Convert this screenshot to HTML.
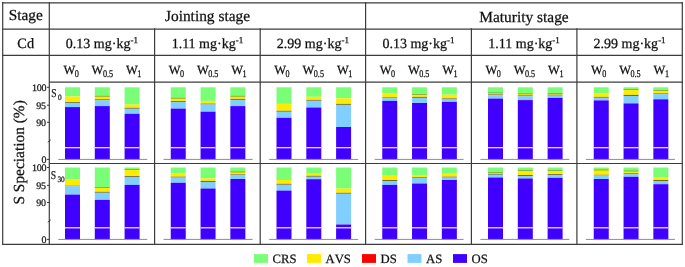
<!DOCTYPE html>
<html><head><meta charset="utf-8"><style>
html,body{margin:0;padding:0;background:#fff;width:685px;height:267px;overflow:hidden}
svg{display:block;text-rendering:geometricPrecision;will-change:transform}
</style></head><body>
<svg width="685" height="267" viewBox="0 0 685 267">
<rect width="685" height="267" fill="#fff"/>
<rect x="65.00" y="87.30" width="15.00" height="9.20" fill="#7afe78"/>
<rect x="65.00" y="96.50" width="15.00" height="5.50" fill="#ffeb00"/>
<rect x="65.00" y="102.00" width="15.00" height="0.90" fill="#6b6b3a"/>
<rect x="65.00" y="102.90" width="15.00" height="4.20" fill="#80cfff"/>
<rect x="65.00" y="107.10" width="15.00" height="52.30" fill="#4000ff"/>
<rect x="65.00" y="147.10" width="15.00" height="1.20" fill="#f2eeff"/>
<rect x="94.80" y="87.30" width="15.00" height="8.90" fill="#7afe78"/>
<rect x="94.80" y="96.20" width="15.00" height="3.10" fill="#ffeb00"/>
<rect x="94.80" y="99.30" width="15.00" height="1.00" fill="#6b6b3a"/>
<rect x="94.80" y="100.30" width="15.00" height="5.80" fill="#80cfff"/>
<rect x="94.80" y="106.10" width="15.00" height="53.30" fill="#4000ff"/>
<rect x="94.80" y="95.90" width="15.00" height="0.60" fill="#5a8a2a"/>
<rect x="94.80" y="147.10" width="15.00" height="1.20" fill="#f2eeff"/>
<rect x="124.60" y="87.30" width="15.00" height="17.30" fill="#7afe78"/>
<rect x="124.60" y="104.60" width="15.00" height="3.20" fill="#ffeb00"/>
<rect x="124.60" y="107.80" width="15.00" height="1.00" fill="#6b6b3a"/>
<rect x="124.60" y="108.80" width="15.00" height="5.00" fill="#80cfff"/>
<rect x="124.60" y="113.80" width="15.00" height="45.60" fill="#4000ff"/>
<rect x="124.60" y="147.10" width="15.00" height="1.20" fill="#f2eeff"/>
<line x1="58.3" y1="159.4" x2="147.3" y2="159.4" stroke="#8c8c8c" stroke-width="1.0"/>
<rect x="170.75" y="87.30" width="15.00" height="10.90" fill="#7afe78"/>
<rect x="170.75" y="98.20" width="15.00" height="2.90" fill="#ffeb00"/>
<rect x="170.75" y="101.10" width="15.00" height="0.90" fill="#6b6b3a"/>
<rect x="170.75" y="102.00" width="15.00" height="6.60" fill="#80cfff"/>
<rect x="170.75" y="108.60" width="15.00" height="50.80" fill="#4000ff"/>
<rect x="170.75" y="97.90" width="15.00" height="0.60" fill="#5a8a2a"/>
<rect x="170.75" y="147.10" width="15.00" height="1.20" fill="#f2eeff"/>
<rect x="200.55" y="87.30" width="15.00" height="13.60" fill="#7afe78"/>
<rect x="200.55" y="100.90" width="15.00" height="2.70" fill="#ffeb00"/>
<rect x="200.55" y="103.60" width="15.00" height="0.90" fill="#6b6b3a"/>
<rect x="200.55" y="104.50" width="15.00" height="7.20" fill="#80cfff"/>
<rect x="200.55" y="111.70" width="15.00" height="47.70" fill="#4000ff"/>
<rect x="200.55" y="147.10" width="15.00" height="1.20" fill="#f2eeff"/>
<rect x="230.35" y="87.30" width="15.00" height="8.90" fill="#7afe78"/>
<rect x="230.35" y="96.20" width="15.00" height="2.70" fill="#ffeb00"/>
<rect x="230.35" y="98.90" width="15.00" height="1.00" fill="#6b6b3a"/>
<rect x="230.35" y="99.90" width="15.00" height="6.20" fill="#80cfff"/>
<rect x="230.35" y="106.10" width="15.00" height="53.30" fill="#4000ff"/>
<rect x="230.35" y="95.90" width="15.00" height="0.60" fill="#5a8a2a"/>
<rect x="230.35" y="147.10" width="15.00" height="1.20" fill="#f2eeff"/>
<line x1="163.6" y1="159.4" x2="252.6" y2="159.4" stroke="#8c8c8c" stroke-width="1.0"/>
<rect x="276.50" y="87.30" width="15.00" height="16.60" fill="#7afe78"/>
<rect x="276.50" y="103.90" width="15.00" height="6.90" fill="#ffeb00"/>
<rect x="276.50" y="110.80" width="15.00" height="1.00" fill="#6b6b3a"/>
<rect x="276.50" y="111.80" width="15.00" height="6.00" fill="#80cfff"/>
<rect x="276.50" y="117.80" width="15.00" height="41.60" fill="#4000ff"/>
<rect x="276.50" y="147.10" width="15.00" height="1.20" fill="#f2eeff"/>
<rect x="306.30" y="87.30" width="15.00" height="9.50" fill="#7afe78"/>
<rect x="306.30" y="96.80" width="15.00" height="3.10" fill="#ffeb00"/>
<rect x="306.30" y="99.90" width="15.00" height="0.90" fill="#6b6b3a"/>
<rect x="306.30" y="100.80" width="15.00" height="6.70" fill="#80cfff"/>
<rect x="306.30" y="107.50" width="15.00" height="51.90" fill="#4000ff"/>
<rect x="306.30" y="147.10" width="15.00" height="1.20" fill="#f2eeff"/>
<rect x="336.10" y="87.30" width="15.00" height="11.10" fill="#7afe78"/>
<rect x="336.10" y="98.40" width="15.00" height="5.50" fill="#ffeb00"/>
<rect x="336.10" y="103.90" width="15.00" height="1.00" fill="#6b6b3a"/>
<rect x="336.10" y="104.90" width="15.00" height="22.10" fill="#80cfff"/>
<rect x="336.10" y="127.00" width="15.00" height="32.40" fill="#4000ff"/>
<rect x="336.10" y="147.10" width="15.00" height="1.20" fill="#f2eeff"/>
<line x1="269.2" y1="159.4" x2="358.2" y2="159.4" stroke="#8c8c8c" stroke-width="1.0"/>
<rect x="382.25" y="87.30" width="15.00" height="6.10" fill="#7afe78"/>
<rect x="382.25" y="93.40" width="15.00" height="4.00" fill="#ffeb00"/>
<rect x="382.25" y="97.40" width="15.00" height="0.90" fill="#6b6b3a"/>
<rect x="382.25" y="98.30" width="15.00" height="2.60" fill="#80cfff"/>
<rect x="382.25" y="100.90" width="15.00" height="58.50" fill="#4000ff"/>
<rect x="382.25" y="147.10" width="15.00" height="1.20" fill="#f2eeff"/>
<rect x="412.05" y="87.30" width="15.00" height="7.00" fill="#7afe78"/>
<rect x="412.05" y="94.30" width="15.00" height="2.60" fill="#ffeb00"/>
<rect x="412.05" y="96.90" width="15.00" height="1.00" fill="#6b6b3a"/>
<rect x="412.05" y="97.90" width="15.00" height="5.10" fill="#80cfff"/>
<rect x="412.05" y="103.00" width="15.00" height="56.40" fill="#4000ff"/>
<rect x="412.05" y="94.00" width="15.00" height="0.60" fill="#5a8a2a"/>
<rect x="412.05" y="147.10" width="15.00" height="1.20" fill="#f2eeff"/>
<rect x="441.85" y="87.30" width="15.00" height="7.40" fill="#7afe78"/>
<rect x="441.85" y="94.70" width="15.00" height="3.70" fill="#ffeb00"/>
<rect x="441.85" y="98.40" width="15.00" height="1.10" fill="#6b6b3a"/>
<rect x="441.85" y="99.50" width="15.00" height="2.40" fill="#80cfff"/>
<rect x="441.85" y="101.90" width="15.00" height="57.50" fill="#4000ff"/>
<rect x="441.85" y="147.10" width="15.00" height="1.20" fill="#f2eeff"/>
<line x1="374.6" y1="159.4" x2="463.6" y2="159.4" stroke="#8c8c8c" stroke-width="1.0"/>
<rect x="488.00" y="87.30" width="15.00" height="5.60" fill="#7afe78"/>
<rect x="488.00" y="92.90" width="15.00" height="1.50" fill="#ffeb00"/>
<rect x="488.00" y="94.40" width="15.00" height="0.90" fill="#6b6b3a"/>
<rect x="488.00" y="95.30" width="15.00" height="3.30" fill="#80cfff"/>
<rect x="488.00" y="98.60" width="15.00" height="60.80" fill="#4000ff"/>
<rect x="488.00" y="92.60" width="15.00" height="0.60" fill="#5a8a2a"/>
<rect x="488.00" y="147.10" width="15.00" height="1.20" fill="#f2eeff"/>
<rect x="517.80" y="87.30" width="15.00" height="6.60" fill="#7afe78"/>
<rect x="517.80" y="93.90" width="15.00" height="1.50" fill="#ffeb00"/>
<rect x="517.80" y="95.40" width="15.00" height="0.90" fill="#6b6b3a"/>
<rect x="517.80" y="96.30" width="15.00" height="3.80" fill="#80cfff"/>
<rect x="517.80" y="100.10" width="15.00" height="59.30" fill="#4000ff"/>
<rect x="517.80" y="93.60" width="15.00" height="0.60" fill="#5a8a2a"/>
<rect x="517.80" y="147.10" width="15.00" height="1.20" fill="#f2eeff"/>
<rect x="547.60" y="87.30" width="15.00" height="6.10" fill="#7afe78"/>
<rect x="547.60" y="93.40" width="15.00" height="1.30" fill="#ffeb00"/>
<rect x="547.60" y="94.70" width="15.00" height="0.90" fill="#6b6b3a"/>
<rect x="547.60" y="95.60" width="15.00" height="2.30" fill="#80cfff"/>
<rect x="547.60" y="97.90" width="15.00" height="61.50" fill="#4000ff"/>
<rect x="547.60" y="93.10" width="15.00" height="0.60" fill="#5a8a2a"/>
<rect x="547.60" y="147.10" width="15.00" height="1.20" fill="#f2eeff"/>
<line x1="480.4" y1="159.4" x2="569.4" y2="159.4" stroke="#8c8c8c" stroke-width="1.0"/>
<rect x="593.75" y="87.30" width="15.00" height="6.10" fill="#7afe78"/>
<rect x="593.75" y="93.40" width="15.00" height="3.50" fill="#ffeb00"/>
<rect x="593.75" y="96.90" width="15.00" height="0.90" fill="#6b6b3a"/>
<rect x="593.75" y="97.80" width="15.00" height="2.60" fill="#80cfff"/>
<rect x="593.75" y="100.40" width="15.00" height="59.00" fill="#4000ff"/>
<rect x="593.75" y="147.10" width="15.00" height="1.20" fill="#f2eeff"/>
<rect x="623.55" y="87.30" width="15.00" height="2.00" fill="#7afe78"/>
<rect x="623.55" y="89.30" width="15.00" height="5.60" fill="#ffeb00"/>
<rect x="623.55" y="94.90" width="15.00" height="1.10" fill="#6b6b3a"/>
<rect x="623.55" y="96.00" width="15.00" height="7.40" fill="#80cfff"/>
<rect x="623.55" y="103.40" width="15.00" height="56.00" fill="#4000ff"/>
<rect x="623.55" y="89.00" width="15.00" height="0.60" fill="#5a8a2a"/>
<rect x="623.55" y="147.10" width="15.00" height="1.20" fill="#f2eeff"/>
<rect x="653.35" y="87.30" width="15.00" height="3.10" fill="#7afe78"/>
<rect x="653.35" y="90.40" width="15.00" height="3.00" fill="#ffeb00"/>
<rect x="653.35" y="93.40" width="15.00" height="0.90" fill="#6b6b3a"/>
<rect x="653.35" y="94.30" width="15.00" height="5.00" fill="#80cfff"/>
<rect x="653.35" y="99.30" width="15.00" height="60.10" fill="#4000ff"/>
<rect x="653.35" y="90.10" width="15.00" height="0.60" fill="#5a8a2a"/>
<rect x="653.35" y="147.10" width="15.00" height="1.20" fill="#f2eeff"/>
<line x1="585.9" y1="159.4" x2="674.9" y2="159.4" stroke="#8c8c8c" stroke-width="1.0"/>
<rect x="65.00" y="167.50" width="15.00" height="11.70" fill="#7afe78"/>
<rect x="65.00" y="179.20" width="15.00" height="6.50" fill="#ffeb00"/>
<rect x="65.00" y="185.70" width="15.00" height="0.60" fill="#6b6b3a"/>
<rect x="65.00" y="186.30" width="15.00" height="8.30" fill="#80cfff"/>
<rect x="65.00" y="194.60" width="15.00" height="44.80" fill="#4000ff"/>
<rect x="65.00" y="227.20" width="15.00" height="1.20" fill="#f2eeff"/>
<rect x="94.80" y="167.50" width="15.00" height="19.80" fill="#7afe78"/>
<rect x="94.80" y="187.30" width="15.00" height="4.50" fill="#ffeb00"/>
<rect x="94.80" y="191.80" width="15.00" height="1.00" fill="#6b6b3a"/>
<rect x="94.80" y="192.80" width="15.00" height="7.10" fill="#80cfff"/>
<rect x="94.80" y="199.90" width="15.00" height="39.50" fill="#4000ff"/>
<rect x="94.80" y="187.00" width="15.00" height="0.60" fill="#5a8a2a"/>
<rect x="94.80" y="227.20" width="15.00" height="1.20" fill="#f2eeff"/>
<rect x="124.60" y="167.50" width="15.00" height="1.80" fill="#7afe78"/>
<rect x="124.60" y="169.30" width="15.00" height="6.80" fill="#ffeb00"/>
<rect x="124.60" y="176.10" width="15.00" height="0.90" fill="#6b6b3a"/>
<rect x="124.60" y="177.00" width="15.00" height="7.90" fill="#80cfff"/>
<rect x="124.60" y="184.90" width="15.00" height="54.50" fill="#4000ff"/>
<rect x="124.60" y="169.00" width="15.00" height="0.60" fill="#5a8a2a"/>
<rect x="124.60" y="227.20" width="15.00" height="1.20" fill="#f2eeff"/>
<line x1="58.3" y1="239.4" x2="147.3" y2="239.4" stroke="#8c8c8c" stroke-width="1.0"/>
<rect x="170.75" y="167.50" width="15.00" height="6.00" fill="#7afe78"/>
<rect x="170.75" y="173.50" width="15.00" height="3.20" fill="#ffeb00"/>
<rect x="170.75" y="176.70" width="15.00" height="0.90" fill="#6b6b3a"/>
<rect x="170.75" y="177.60" width="15.00" height="5.20" fill="#80cfff"/>
<rect x="170.75" y="182.80" width="15.00" height="56.60" fill="#4000ff"/>
<rect x="170.75" y="227.20" width="15.00" height="1.20" fill="#f2eeff"/>
<rect x="200.55" y="167.50" width="15.00" height="11.00" fill="#7afe78"/>
<rect x="200.55" y="178.50" width="15.00" height="2.50" fill="#ffeb00"/>
<rect x="200.55" y="181.00" width="15.00" height="1.00" fill="#6b6b3a"/>
<rect x="200.55" y="182.00" width="15.00" height="6.50" fill="#80cfff"/>
<rect x="200.55" y="188.50" width="15.00" height="50.90" fill="#4000ff"/>
<rect x="200.55" y="227.20" width="15.00" height="1.20" fill="#f2eeff"/>
<rect x="230.35" y="167.50" width="15.00" height="4.50" fill="#7afe78"/>
<rect x="230.35" y="172.00" width="15.00" height="2.40" fill="#ffeb00"/>
<rect x="230.35" y="174.40" width="15.00" height="1.00" fill="#6b6b3a"/>
<rect x="230.35" y="175.40" width="15.00" height="3.60" fill="#80cfff"/>
<rect x="230.35" y="179.00" width="15.00" height="60.40" fill="#4000ff"/>
<rect x="230.35" y="171.70" width="15.00" height="0.60" fill="#5a8a2a"/>
<rect x="230.35" y="227.20" width="15.00" height="1.20" fill="#f2eeff"/>
<line x1="163.6" y1="239.4" x2="252.6" y2="239.4" stroke="#8c8c8c" stroke-width="1.0"/>
<rect x="276.50" y="167.50" width="15.00" height="12.50" fill="#7afe78"/>
<rect x="276.50" y="180.00" width="15.00" height="3.80" fill="#ffeb00"/>
<rect x="276.50" y="183.80" width="15.00" height="1.00" fill="#6b6b3a"/>
<rect x="276.50" y="184.80" width="15.00" height="5.80" fill="#80cfff"/>
<rect x="276.50" y="190.60" width="15.00" height="48.80" fill="#4000ff"/>
<rect x="276.50" y="227.20" width="15.00" height="1.20" fill="#f2eeff"/>
<rect x="306.30" y="167.50" width="15.00" height="6.30" fill="#7afe78"/>
<rect x="306.30" y="173.80" width="15.00" height="2.00" fill="#ffeb00"/>
<rect x="306.30" y="175.80" width="15.00" height="1.00" fill="#6b6b3a"/>
<rect x="306.30" y="176.80" width="15.00" height="2.40" fill="#80cfff"/>
<rect x="306.30" y="179.20" width="15.00" height="60.20" fill="#4000ff"/>
<rect x="306.30" y="227.20" width="15.00" height="1.20" fill="#f2eeff"/>
<rect x="336.10" y="167.50" width="15.00" height="21.10" fill="#7afe78"/>
<rect x="336.10" y="188.60" width="15.00" height="4.20" fill="#ffeb00"/>
<rect x="336.10" y="192.80" width="15.00" height="1.00" fill="#6b6b3a"/>
<rect x="336.10" y="193.80" width="15.00" height="30.70" fill="#80cfff"/>
<rect x="336.10" y="224.50" width="15.00" height="14.90" fill="#4000ff"/>
<rect x="336.10" y="227.20" width="15.00" height="1.20" fill="#f2eeff"/>
<line x1="269.2" y1="239.4" x2="358.2" y2="239.4" stroke="#8c8c8c" stroke-width="1.0"/>
<rect x="382.25" y="167.50" width="15.00" height="7.50" fill="#7afe78"/>
<rect x="382.25" y="175.00" width="15.00" height="5.00" fill="#ffeb00"/>
<rect x="382.25" y="180.00" width="15.00" height="1.00" fill="#6b6b3a"/>
<rect x="382.25" y="181.00" width="15.00" height="3.90" fill="#80cfff"/>
<rect x="382.25" y="184.90" width="15.00" height="54.50" fill="#4000ff"/>
<rect x="382.25" y="227.20" width="15.00" height="1.20" fill="#f2eeff"/>
<rect x="412.05" y="167.50" width="15.00" height="8.20" fill="#7afe78"/>
<rect x="412.05" y="175.70" width="15.00" height="1.60" fill="#ffeb00"/>
<rect x="412.05" y="177.30" width="15.00" height="0.70" fill="#6b6b3a"/>
<rect x="412.05" y="178.00" width="15.00" height="5.50" fill="#80cfff"/>
<rect x="412.05" y="183.50" width="15.00" height="55.90" fill="#4000ff"/>
<rect x="412.05" y="227.20" width="15.00" height="1.20" fill="#f2eeff"/>
<rect x="441.85" y="167.50" width="15.00" height="6.30" fill="#7afe78"/>
<rect x="441.85" y="173.80" width="15.00" height="2.90" fill="#ffeb00"/>
<rect x="441.85" y="176.70" width="15.00" height="0.90" fill="#6b6b3a"/>
<rect x="441.85" y="177.60" width="15.00" height="2.40" fill="#80cfff"/>
<rect x="441.85" y="180.00" width="15.00" height="59.40" fill="#4000ff"/>
<rect x="441.85" y="227.20" width="15.00" height="1.20" fill="#f2eeff"/>
<line x1="374.6" y1="239.4" x2="463.6" y2="239.4" stroke="#8c8c8c" stroke-width="1.0"/>
<rect x="488.00" y="167.50" width="15.00" height="4.80" fill="#7afe78"/>
<rect x="488.00" y="172.30" width="15.00" height="1.50" fill="#ffeb00"/>
<rect x="488.00" y="173.80" width="15.00" height="1.00" fill="#6b6b3a"/>
<rect x="488.00" y="174.80" width="15.00" height="2.70" fill="#80cfff"/>
<rect x="488.00" y="177.50" width="15.00" height="61.90" fill="#4000ff"/>
<rect x="488.00" y="172.00" width="15.00" height="0.60" fill="#5a8a2a"/>
<rect x="488.00" y="227.20" width="15.00" height="1.20" fill="#f2eeff"/>
<rect x="517.80" y="167.50" width="15.00" height="3.20" fill="#7afe78"/>
<rect x="517.80" y="170.70" width="15.00" height="4.30" fill="#ffeb00"/>
<rect x="517.80" y="175.00" width="15.00" height="1.00" fill="#6b6b3a"/>
<rect x="517.80" y="176.00" width="15.00" height="2.50" fill="#80cfff"/>
<rect x="517.80" y="178.50" width="15.00" height="60.90" fill="#4000ff"/>
<rect x="517.80" y="170.40" width="15.00" height="0.60" fill="#5a8a2a"/>
<rect x="517.80" y="227.20" width="15.00" height="1.20" fill="#f2eeff"/>
<rect x="547.60" y="167.50" width="15.00" height="3.20" fill="#7afe78"/>
<rect x="547.60" y="170.70" width="15.00" height="3.40" fill="#ffeb00"/>
<rect x="547.60" y="174.10" width="15.00" height="0.90" fill="#6b6b3a"/>
<rect x="547.60" y="175.00" width="15.00" height="2.80" fill="#80cfff"/>
<rect x="547.60" y="177.80" width="15.00" height="61.60" fill="#4000ff"/>
<rect x="547.60" y="170.40" width="15.00" height="0.60" fill="#5a8a2a"/>
<rect x="547.60" y="227.20" width="15.00" height="1.20" fill="#f2eeff"/>
<line x1="480.4" y1="239.4" x2="569.4" y2="239.4" stroke="#8c8c8c" stroke-width="1.0"/>
<rect x="593.75" y="167.50" width="15.00" height="2.50" fill="#7afe78"/>
<rect x="593.75" y="170.00" width="15.00" height="4.80" fill="#ffeb00"/>
<rect x="593.75" y="174.80" width="15.00" height="0.70" fill="#6b6b3a"/>
<rect x="593.75" y="175.50" width="15.00" height="3.50" fill="#80cfff"/>
<rect x="593.75" y="179.00" width="15.00" height="60.40" fill="#4000ff"/>
<rect x="593.75" y="169.70" width="15.00" height="0.60" fill="#5a8a2a"/>
<rect x="593.75" y="227.20" width="15.00" height="1.20" fill="#f2eeff"/>
<rect x="623.55" y="167.50" width="15.00" height="3.50" fill="#7afe78"/>
<rect x="623.55" y="171.00" width="15.00" height="2.30" fill="#ffeb00"/>
<rect x="623.55" y="173.30" width="15.00" height="0.90" fill="#6b6b3a"/>
<rect x="623.55" y="174.20" width="15.00" height="2.60" fill="#80cfff"/>
<rect x="623.55" y="176.80" width="15.00" height="62.60" fill="#4000ff"/>
<rect x="623.55" y="170.70" width="15.00" height="0.60" fill="#5a8a2a"/>
<rect x="623.55" y="227.20" width="15.00" height="1.20" fill="#f2eeff"/>
<rect x="653.35" y="167.50" width="15.00" height="9.60" fill="#7afe78"/>
<rect x="653.35" y="177.10" width="15.00" height="2.90" fill="#ffeb00"/>
<rect x="653.35" y="180.00" width="15.00" height="1.00" fill="#6b6b3a"/>
<rect x="653.35" y="181.00" width="15.00" height="3.20" fill="#80cfff"/>
<rect x="653.35" y="184.20" width="15.00" height="55.20" fill="#4000ff"/>
<rect x="653.35" y="227.20" width="15.00" height="1.20" fill="#f2eeff"/>
<line x1="585.9" y1="239.4" x2="674.9" y2="239.4" stroke="#8c8c8c" stroke-width="1.0"/>
<line x1="2.1" y1="2.85" x2="682.9" y2="2.85" stroke="#3c3c3c" stroke-width="1.4"/>
<line x1="2.1" y1="29.2" x2="682.9" y2="29.2" stroke="#3c3c3c" stroke-width="1.2"/>
<line x1="2.1" y1="55.3" x2="682.9" y2="55.3" stroke="#3c3c3c" stroke-width="1.2"/>
<line x1="49.3" y1="82.1" x2="682.9" y2="82.1" stroke="#3c3c3c" stroke-width="1.2"/>
<line x1="49.3" y1="163.5" x2="682.9" y2="163.5" stroke="#3c3c3c" stroke-width="1.2"/>
<line x1="2.1" y1="244.4" x2="682.9" y2="244.4" stroke="#3c3c3c" stroke-width="1.2"/>
<line x1="2.7" y1="2.0" x2="2.7" y2="244.79999999999998" stroke="#3c3c3c" stroke-width="1.2"/>
<line x1="49.3" y1="2.0" x2="49.3" y2="244.79999999999998" stroke="#3c3c3c" stroke-width="1.2"/>
<line x1="154.6" y1="28.299999999999997" x2="154.6" y2="244.79999999999998" stroke="#3c3c3c" stroke-width="1.2"/>
<line x1="260.2" y1="28.299999999999997" x2="260.2" y2="244.79999999999998" stroke="#3c3c3c" stroke-width="1.2"/>
<line x1="365.6" y1="2.0" x2="365.6" y2="244.79999999999998" stroke="#3c3c3c" stroke-width="1.2"/>
<line x1="471.4" y1="28.299999999999997" x2="471.4" y2="244.79999999999998" stroke="#3c3c3c" stroke-width="1.2"/>
<line x1="576.9" y1="28.299999999999997" x2="576.9" y2="244.79999999999998" stroke="#3c3c3c" stroke-width="1.2"/>
<line x1="682.3" y1="2.0" x2="682.3" y2="244.79999999999998" stroke="#3c3c3c" stroke-width="1.2"/>
<line x1="47.0" y1="87.3" x2="49.3" y2="87.3" stroke="#3c3c3c" stroke-width="1.0"/>
<line x1="47.0" y1="105.2" x2="49.3" y2="105.2" stroke="#3c3c3c" stroke-width="1.0"/>
<line x1="47.0" y1="122.3" x2="49.3" y2="122.3" stroke="#3c3c3c" stroke-width="1.0"/>
<line x1="47.0" y1="159.4" x2="49.3" y2="159.4" stroke="#3c3c3c" stroke-width="1.0"/>
<line x1="47.8" y1="142.2" x2="50.8" y2="139.8" stroke="#333" stroke-width="0.9"/>
<line x1="47.0" y1="167.5" x2="49.3" y2="167.5" stroke="#3c3c3c" stroke-width="1.0"/>
<line x1="47.0" y1="185.4" x2="49.3" y2="185.4" stroke="#3c3c3c" stroke-width="1.0"/>
<line x1="47.0" y1="202.5" x2="49.3" y2="202.5" stroke="#3c3c3c" stroke-width="1.0"/>
<line x1="47.0" y1="239.4" x2="49.3" y2="239.4" stroke="#3c3c3c" stroke-width="1.0"/>
<line x1="47.8" y1="222.2" x2="50.8" y2="219.8" stroke="#333" stroke-width="0.9"/>
<rect x="254.00" y="254.10" width="14.00" height="8.80" fill="#7afe78"/>
<rect x="307.00" y="254.10" width="14.00" height="8.80" fill="#ffeb00"/>
<rect x="362.00" y="254.10" width="14.00" height="8.80" fill="#ff0000"/>
<rect x="407.50" y="254.10" width="14.00" height="8.80" fill="#80cfff"/>
<rect x="453.00" y="254.10" width="14.00" height="8.80" fill="#4000ff"/>
<text x="46.3" y="90.7" text-anchor="end" font-size="10" letter-spacing="-0.2" font-family="Liberation Serif" stroke="#111" stroke-width="0.25" fill="#222">100</text>
<text x="45.8" y="108.6" text-anchor="end" font-size="10" letter-spacing="-0.2" font-family="Liberation Serif" stroke="#111" stroke-width="0.25" fill="#222">95</text>
<text x="45.8" y="125.7" text-anchor="end" font-size="10" letter-spacing="-0.2" font-family="Liberation Serif" stroke="#111" stroke-width="0.25" fill="#222">90</text>
<text x="46.3" y="162.8" text-anchor="end" font-size="10" letter-spacing="-0.2" font-family="Liberation Serif" stroke="#111" stroke-width="0.25" fill="#222">0</text>
<text transform="translate(51.30,97.20) scale(0.8,1)" font-size="12" font-family="Liberation Serif" stroke="#111" stroke-width="0.25" fill="#222">S</text>
<text transform="translate(57.90,99.50) scale(0.9,1)" font-size="8.2" font-family="Liberation Serif" stroke="#111" stroke-width="0.25" fill="#222">0</text>
<text x="46.3" y="170.9" text-anchor="end" font-size="10" letter-spacing="-0.2" font-family="Liberation Serif" stroke="#111" stroke-width="0.25" fill="#222">100</text>
<text x="45.8" y="188.8" text-anchor="end" font-size="10" letter-spacing="-0.2" font-family="Liberation Serif" stroke="#111" stroke-width="0.25" fill="#222">95</text>
<text x="45.8" y="205.9" text-anchor="end" font-size="10" letter-spacing="-0.2" font-family="Liberation Serif" stroke="#111" stroke-width="0.25" fill="#222">90</text>
<text x="46.3" y="242.8" text-anchor="end" font-size="10" letter-spacing="-0.2" font-family="Liberation Serif" stroke="#111" stroke-width="0.25" fill="#222">0</text>
<text transform="translate(50.80,178.70) scale(0.8,1)" font-size="12" font-family="Liberation Serif" stroke="#111" stroke-width="0.25" fill="#222">S</text>
<text transform="translate(57.40,181.50) scale(0.9,1)" font-size="8.2" font-family="Liberation Serif" stroke="#111" stroke-width="0.25" fill="#222">30</text>
<text x="25.7" y="20.3" text-anchor="middle" font-size="15.3" font-family="Liberation Serif" stroke="#111" stroke-width="0.25" fill="#111">Stage</text>
<text x="207.5" y="21.2" text-anchor="middle" font-size="15.4" font-family="Liberation Serif" stroke="#111" stroke-width="0.25" fill="#111">Jointing stage</text>
<text x="524.0" y="21.6" text-anchor="middle" font-size="15.4" font-family="Liberation Serif" stroke="#111" stroke-width="0.25" fill="#111">Maturity stage</text>
<text x="25.7" y="48.1" text-anchor="middle" font-size="14.3" font-family="Liberation Serif" stroke="#111" stroke-width="0.25" fill="#111">Cd</text>
<text x="101.9" y="48.4" text-anchor="middle" font-size="14.0" font-family="Liberation Serif" stroke="#111" stroke-width="0.25" fill="#111">0.13 mg·kg<tspan font-size="9" dy="-5">-1</tspan></text>
<text transform="translate(63.40,73.80) scale(1.0,1)" font-size="12.5" font-family="Liberation Serif" stroke="#111" stroke-width="0.25" fill="#111">W</text>
<text transform="translate(74.70,77.00) scale(0.8,1)" font-size="10.2" font-family="Liberation Serif" stroke="#111" stroke-width="0.25" fill="#111">0</text>
<text transform="translate(91.60,73.80) scale(1.0,1)" font-size="12.5" font-family="Liberation Serif" stroke="#111" stroke-width="0.25" fill="#111">W</text>
<text transform="translate(102.90,77.00) scale(0.8,1)" font-size="10.2" font-family="Liberation Serif" stroke="#111" stroke-width="0.25" fill="#111">0.5</text>
<text transform="translate(126.00,73.80) scale(1.0,1)" font-size="12.5" font-family="Liberation Serif" stroke="#111" stroke-width="0.25" fill="#111">W</text>
<text transform="translate(137.30,77.00) scale(0.8,1)" font-size="10.2" font-family="Liberation Serif" stroke="#111" stroke-width="0.25" fill="#111">1</text>
<text x="207.4" y="48.4" text-anchor="middle" font-size="14.0" font-family="Liberation Serif" stroke="#111" stroke-width="0.25" fill="#111">1.11 mg·kg<tspan font-size="9" dy="-5">-1</tspan></text>
<text transform="translate(168.70,73.80) scale(1.0,1)" font-size="12.5" font-family="Liberation Serif" stroke="#111" stroke-width="0.25" fill="#111">W</text>
<text transform="translate(180.00,77.00) scale(0.8,1)" font-size="10.2" font-family="Liberation Serif" stroke="#111" stroke-width="0.25" fill="#111">0</text>
<text transform="translate(196.90,73.80) scale(1.0,1)" font-size="12.5" font-family="Liberation Serif" stroke="#111" stroke-width="0.25" fill="#111">W</text>
<text transform="translate(208.20,77.00) scale(0.8,1)" font-size="10.2" font-family="Liberation Serif" stroke="#111" stroke-width="0.25" fill="#111">0.5</text>
<text transform="translate(231.30,73.80) scale(1.0,1)" font-size="12.5" font-family="Liberation Serif" stroke="#111" stroke-width="0.25" fill="#111">W</text>
<text transform="translate(242.60,77.00) scale(0.8,1)" font-size="10.2" font-family="Liberation Serif" stroke="#111" stroke-width="0.25" fill="#111">1</text>
<text x="312.9" y="48.4" text-anchor="middle" font-size="14.0" font-family="Liberation Serif" stroke="#111" stroke-width="0.25" fill="#111">2.99 mg·kg<tspan font-size="9" dy="-5">-1</tspan></text>
<text transform="translate(274.30,73.80) scale(1.0,1)" font-size="12.5" font-family="Liberation Serif" stroke="#111" stroke-width="0.25" fill="#111">W</text>
<text transform="translate(285.60,77.00) scale(0.8,1)" font-size="10.2" font-family="Liberation Serif" stroke="#111" stroke-width="0.25" fill="#111">0</text>
<text transform="translate(302.50,73.80) scale(1.0,1)" font-size="12.5" font-family="Liberation Serif" stroke="#111" stroke-width="0.25" fill="#111">W</text>
<text transform="translate(313.80,77.00) scale(0.8,1)" font-size="10.2" font-family="Liberation Serif" stroke="#111" stroke-width="0.25" fill="#111">0.5</text>
<text transform="translate(336.90,73.80) scale(1.0,1)" font-size="12.5" font-family="Liberation Serif" stroke="#111" stroke-width="0.25" fill="#111">W</text>
<text transform="translate(348.20,77.00) scale(0.8,1)" font-size="10.2" font-family="Liberation Serif" stroke="#111" stroke-width="0.25" fill="#111">1</text>
<text x="418.5" y="48.4" text-anchor="middle" font-size="14.0" font-family="Liberation Serif" stroke="#111" stroke-width="0.25" fill="#111">0.13 mg·kg<tspan font-size="9" dy="-5">-1</tspan></text>
<text transform="translate(379.70,73.80) scale(1.0,1)" font-size="12.5" font-family="Liberation Serif" stroke="#111" stroke-width="0.25" fill="#111">W</text>
<text transform="translate(391.00,77.00) scale(0.8,1)" font-size="10.2" font-family="Liberation Serif" stroke="#111" stroke-width="0.25" fill="#111">0</text>
<text transform="translate(407.90,73.80) scale(1.0,1)" font-size="12.5" font-family="Liberation Serif" stroke="#111" stroke-width="0.25" fill="#111">W</text>
<text transform="translate(419.20,77.00) scale(0.8,1)" font-size="10.2" font-family="Liberation Serif" stroke="#111" stroke-width="0.25" fill="#111">0.5</text>
<text transform="translate(442.30,73.80) scale(1.0,1)" font-size="12.5" font-family="Liberation Serif" stroke="#111" stroke-width="0.25" fill="#111">W</text>
<text transform="translate(453.60,77.00) scale(0.8,1)" font-size="10.2" font-family="Liberation Serif" stroke="#111" stroke-width="0.25" fill="#111">1</text>
<text x="524.1" y="48.4" text-anchor="middle" font-size="14.0" font-family="Liberation Serif" stroke="#111" stroke-width="0.25" fill="#111">1.11 mg·kg<tspan font-size="9" dy="-5">-1</tspan></text>
<text transform="translate(485.50,73.80) scale(1.0,1)" font-size="12.5" font-family="Liberation Serif" stroke="#111" stroke-width="0.25" fill="#111">W</text>
<text transform="translate(496.80,77.00) scale(0.8,1)" font-size="10.2" font-family="Liberation Serif" stroke="#111" stroke-width="0.25" fill="#111">0</text>
<text transform="translate(513.70,73.80) scale(1.0,1)" font-size="12.5" font-family="Liberation Serif" stroke="#111" stroke-width="0.25" fill="#111">W</text>
<text transform="translate(525.00,77.00) scale(0.8,1)" font-size="10.2" font-family="Liberation Serif" stroke="#111" stroke-width="0.25" fill="#111">0.5</text>
<text transform="translate(548.10,73.80) scale(1.0,1)" font-size="12.5" font-family="Liberation Serif" stroke="#111" stroke-width="0.25" fill="#111">W</text>
<text transform="translate(559.40,77.00) scale(0.8,1)" font-size="10.2" font-family="Liberation Serif" stroke="#111" stroke-width="0.25" fill="#111">1</text>
<text x="629.6" y="48.4" text-anchor="middle" font-size="14.0" font-family="Liberation Serif" stroke="#111" stroke-width="0.25" fill="#111">2.99 mg·kg<tspan font-size="9" dy="-5">-1</tspan></text>
<text transform="translate(591.00,73.80) scale(1.0,1)" font-size="12.5" font-family="Liberation Serif" stroke="#111" stroke-width="0.25" fill="#111">W</text>
<text transform="translate(602.30,77.00) scale(0.8,1)" font-size="10.2" font-family="Liberation Serif" stroke="#111" stroke-width="0.25" fill="#111">0</text>
<text transform="translate(619.20,73.80) scale(1.0,1)" font-size="12.5" font-family="Liberation Serif" stroke="#111" stroke-width="0.25" fill="#111">W</text>
<text transform="translate(630.50,77.00) scale(0.8,1)" font-size="10.2" font-family="Liberation Serif" stroke="#111" stroke-width="0.25" fill="#111">0.5</text>
<text transform="translate(653.60,73.80) scale(1.0,1)" font-size="12.5" font-family="Liberation Serif" stroke="#111" stroke-width="0.25" fill="#111">W</text>
<text transform="translate(664.90,77.00) scale(0.8,1)" font-size="10.2" font-family="Liberation Serif" stroke="#111" stroke-width="0.25" fill="#111">1</text>
<text transform="translate(24.2,152.4) rotate(-90)" text-anchor="middle" font-size="15.4" font-family="Liberation Serif" stroke="#111" stroke-width="0.25" fill="#111">S Speciation (%)</text>
<text x="272.5" y="262.9" font-size="12.7" font-family="Liberation Serif" stroke="#111" stroke-width="0.25" fill="#111" style="font-kerning:none">CRS</text>
<text x="325.5" y="262.9" font-size="12.7" font-family="Liberation Serif" stroke="#111" stroke-width="0.25" fill="#111" style="font-kerning:none">AVS</text>
<text x="380.5" y="262.9" font-size="12.7" font-family="Liberation Serif" stroke="#111" stroke-width="0.25" fill="#111" style="font-kerning:none">DS</text>
<text x="426.0" y="262.9" font-size="12.7" font-family="Liberation Serif" stroke="#111" stroke-width="0.25" fill="#111" style="font-kerning:none">AS</text>
<text x="471.5" y="262.9" font-size="12.7" font-family="Liberation Serif" stroke="#111" stroke-width="0.25" fill="#111" style="font-kerning:none">OS</text>
</svg>
</body></html>
